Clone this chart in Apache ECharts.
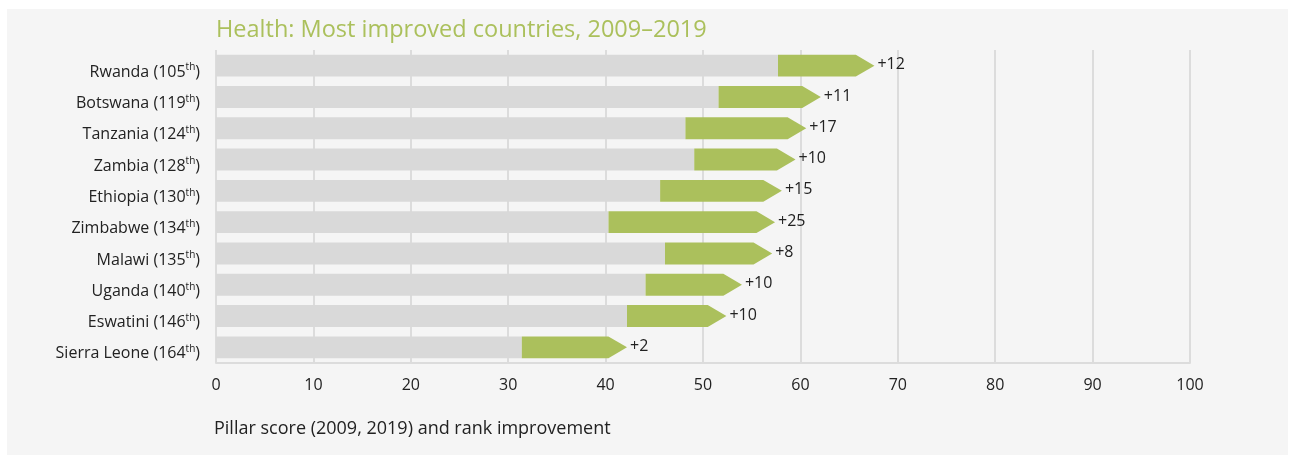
<!DOCTYPE html>
<html>
<head>
<meta charset="utf-8">
<script src="https://cdn.jsdelivr.net/npm/echarts@6/dist/echarts.min.js"></script>
<style>
html,body{margin:0;padding:0;background:#ffffff;}
#chart{width:1295px;height:458px;}
</style>
</head>
<body>
<div id="chart"></div>
<script>
const countries = ['Rwanda','Botswana','Tanzania','Zambia','Ethiopia','Zimbabwe','Malawi','Uganda','Eswatini','Sierra Leone'];
const ranks = ['105','119','124','128','130','134','135','140','146','164'];
const score2009 = [57.7,51.6,48.2,49.1,45.6,40.3,46.1,44.1,42.2,31.4];
const score2019 = [67.6,62.1,60.6,59.5,58.1,57.4,57.1,54.0,52.4,42.2];
const rankChange = ['+12','+11','+17','+10','+15','+25','+8','+10','+10','+2'];
const xTicks = [0,10,20,30,40,50,60,70,80,90,100];

const FONT = '"Open Sans", "Noto Sans", sans-serif';
const GREEN = '#abc05c';
const GREY = '#d9d9d9';

const arrowData = countries.map((c, i) => [i, score2009[i], score2019[i]]);

const chart = echarts.init(document.getElementById('chart'), null, {renderer: 'canvas'});
chart.setOption({
  backgroundColor: '#ffffff',
  animation: false,
  textStyle: {fontFamily: FONT},
  graphic: [{
    type: 'rect', z: -10, silent: true,
    shape: {x: 7, y: 9, width: 1281, height: 446},
    style: {fill: '#f5f5f5'}
  }],
  title: [{
    text: 'Health: Most improved countries, 2009\u20132019',
    left: 211, top: 13,
    textStyle: {color: GREEN, fontSize: 23.5, fontWeight: 'normal', fontFamily: FONT}
  }, {
    text: 'Pillar score (2009, 2019) and rank improvement',
    left: 209, top: 415,
    textStyle: {color: '#222222', fontSize: 18, fontWeight: 'normal', fontFamily: FONT}
  }],
  grid: {left: 216, right: 105, top: 50, bottom: 95, containLabel: false},
  xAxis: {
    type: 'value', min: 0, max: 100, interval: 10,
    axisLine: {show: true, lineStyle: {color: '#dcdcdc', width: 2}},
    axisTick: {show: false},
    splitLine: {show: true, lineStyle: {color: '#dcdcdc', width: 2}},
    axisLabel: {
      color: '#222222', fontSize: 16, fontFamily: FONT, margin: 14,
      formatter: v => xTicks.includes(v) ? String(v) : ''
    }
  },
  yAxis: {
    type: 'category', inverse: true,
    data: countries,
    axisLine: {show: false},
    axisTick: {show: false},
    splitLine: {show: false},
    axisLabel: {
      margin: 16,
      padding: [13, 0, 0, 0],
      formatter: (v, i) => '{n|' + v + ' (' + ranks[i] + '}{s|th}{n|)}',
      rich: {
        n: {color: '#222222', fontSize: 16, fontFamily: FONT, lineHeight: 19},
        s: {color: '#222222', fontSize: 10, fontFamily: FONT, lineHeight: 10, verticalAlign: 'top'}
      }
    }
  },
  series: [{
    type: 'bar',
    data: score2009,
    barWidth: '70%',
    itemStyle: {color: GREY},
    silent: true,
    z: 2
  }, {
    type: 'custom',
    data: arrowData,
    encode: {x: [1, 2], y: 0},
    z: 3,
    silent: true,
    renderItem: function (params, api) {
      const cat = api.value(0);
      const s = api.coord([api.value(1), cat]);
      const e = api.coord([api.value(2), cat]);
      const h = api.size([0, 1])[1] * 0.7;
      const tip = h * 0.85;
      const y = s[1];
      return {
        type: 'group',
        children: [{
          type: 'polygon',
          shape: {points: [
            [s[0], y - h / 2], [e[0] - tip, y - h / 2], [e[0], y],
            [e[0] - tip, y + h / 2], [s[0], y + h / 2]
          ]},
          style: {fill: GREEN}
        }, {
          type: 'text',
          x: e[0] + 3, y: y - 1,
          style: {
            text: rankChange[params.dataIndex],
            fill: '#222222', fontSize: 16, fontFamily: FONT,
            align: 'left', verticalAlign: 'middle'
          }
        }]
      };
    }
  }]
});
</script>
</body>
</html>
